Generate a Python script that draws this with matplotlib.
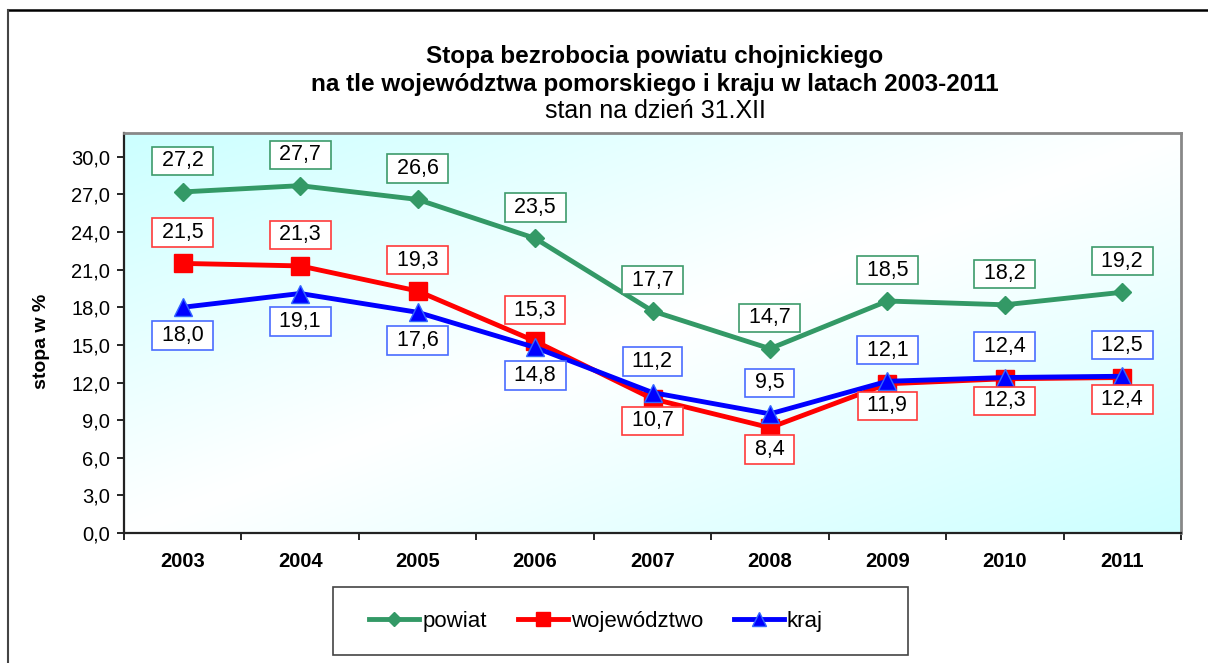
import numpy as np
import matplotlib
matplotlib.use("Agg")
import matplotlib.pyplot as plt
from matplotlib.colors import LinearSegmentedColormap
from matplotlib.lines import Line2D
from matplotlib.patches import Rectangle

plt.rcParams['font.family'] = ['Liberation Sans', 'DejaVu Sans']

# dane
lata = ['2003', '2004', '2005', '2006', '2007', '2008', '2009', '2010', '2011']
powiat = [27.2, 27.7, 26.6, 23.5, 17.7, 14.7, 18.5, 18.2, 19.2]
wojewodztwo = [21.5, 21.3, 19.3, 15.3, 10.7, 8.4, 11.9, 12.3, 12.4]
kraj = [18.0, 19.1, 17.6, 14.8, 11.2, 9.5, 12.1, 12.4, 12.5]

# gdzie stoi etykieta: nad / pod punktem
poz_powiat = ['g'] * 9
poz_woj = ['g', 'g', 'g', 'g', 'd', 'd', 'd', 'd', 'd']
poz_kraj = ['d', 'd', 'd', 'd', 'g', 'g', 'g', 'g', 'g']

W, H = 1208, 663
fig = plt.figure(figsize=(W / 100, H / 100), dpi=100)
ax = fig.add_axes([124 / W, 1 - 533 / H, (1181 - 124) / W, (533 - 133) / H])

x = np.arange(len(lata))
ax.set_xlim(-0.5, len(lata) - 0.5)
ax.set_ylim(0, 31.9)

# tlo z gradientem
u, v = np.meshgrid(np.linspace(0, 1, 200), np.linspace(1, 0, 200))
grad = np.abs(u - v)
cmap = LinearSegmentedColormap.from_list('tlo', ['#ffffff', '#ccffff'])
ax.imshow(grad, extent=[-0.5, len(lata) - 0.5, 0, 31.9], aspect='auto',
          cmap=cmap, zorder=0, vmin=0, vmax=1)

ax.plot(x, powiat, color='#339966', lw=3.5, marker='D', ms=9.5,
        label='powiat', zorder=3)
ax.plot(x, wojewodztwo, color='#ff0000', lw=3.5, marker='s', ms=13,
        label='województwo', zorder=4)
ax.plot(x, kraj, color='#0000ff', lw=3.5, marker='^', ms=13,
        mec='#3366ff', label='kraj', zorder=5)


def etykiety(vals, poz, kolor, dol):
    for i, val in enumerate(vals):
        dy = -22.3 if poz[i] == 'g' else dol
        ax.annotate(' ' + f'{val:.1f}'.replace('.', ',') + ' ', (x[i], val),
                    xytext=(0, -dy), textcoords='offset points',
                    ha='center', va='center', fontsize=15.5, zorder=10,
                    bbox=dict(boxstyle='square,pad=0.17', fc='white',
                              ec=kolor, lw=1.2))


etykiety(powiat, poz_powiat, '#3d9b6b', 20)
etykiety(wojewodztwo, poz_woj, '#ff3b3b', 15.8)
etykiety(kraj, poz_kraj, '#4a6cff', 20.2)

# osie
ax.set_yticks(np.arange(0, 31, 3))
ax.set_yticklabels([f'{t:.1f}'.replace('.', ',') for t in np.arange(0, 31, 3)],
                   fontsize=14.5)
ax.tick_params(axis='y', direction='out', length=5, width=1.2, pad=5)
ax.set_xticks(x)
ax.set_xticklabels(lata, fontsize=14.5, fontweight='bold')
ax.set_xticks(np.arange(-0.5, len(lata)), minor=True)
ax.tick_params(axis='x', which='major', length=0, pad=14)
ax.tick_params(axis='x', which='minor', direction='out', length=5, width=1.2)

for s in ['left', 'bottom']:
    ax.spines[s].set_color('#222222')
    ax.spines[s].set_linewidth(1.6)
for s in ['top', 'right']:
    ax.spines[s].set_color('#888888')
    ax.spines[s].set_linewidth(2)

fig.text(42 / W, 1 - 341 / H, 'stopa w %', rotation=90, ha='center',
         va='center', fontsize=14, fontweight='bold')

# tytul
fig.text(655 / W, 1 - 57 / H, 'Stopa bezrobocia powiatu chojnickiego',
         ha='center', va='center', fontsize=17.5, fontweight='bold')
fig.text(655 / W, 1 - 84 / H,
         'na tle województwa pomorskiego i kraju w latach 2003-2011',
         ha='center', va='center', fontsize=17.5, fontweight='bold')
fig.text(655 / W, 1 - 111 / H, 'stan na dzień 31.XII',
         ha='center', va='center', fontsize=18)

# legenda
fig.patches.append(Rectangle((333 / W, 1 - 655 / H), (908 - 333) / W,
                             (655 - 587) / H, transform=fig.transFigure,
                             fc='white', ec='#444444', lw=1.2))
fig.legend(loc='center', bbox_to_anchor=(596 / W, 1 - 621 / H), ncol=3,
           frameon=False, fontsize=16, handlelength=2.25, handletextpad=0.13,
           columnspacing=1.4, markerscale=0.75)

# ramka
fig.add_artist(Line2D([8 / W, 1], [1 - 10 / H, 1 - 10 / H],
                      transform=fig.transFigure, color='black', lw=1.8))
fig.add_artist(Line2D([8 / W, 8 / W], [0, 1 - 10 / H],
                      transform=fig.transFigure, color='#444444', lw=1.5))

fig.savefig('out.png', dpi=100)
